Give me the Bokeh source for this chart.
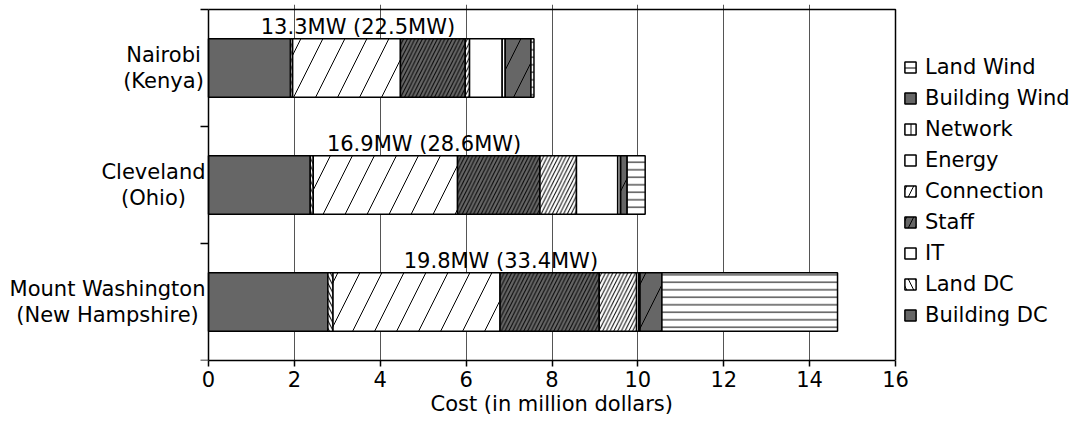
from bokeh.plotting import figure
from bokeh.models import (Range1d, FixedTicker, Legend, LegendItem, ColumnDataSource,
                          LinearAxis, Title)
from bokeh.embed import file_html
from bokeh.resources import INLINE
from bokeh.core.properties import value

# Sites, listed top to bottom
sites = ["Nairobi\n(Kenya)", "Cleveland\n(Ohio)", "Mount Washington\n(New Hampshire)"]

# Cost components in stacking order (million dollars)
components = ["Building DC", "Land DC", "IT", "Staff", "Connection",
              "Energy", "Network", "Building Wind", "Land Wind"]
building_dc = [1.91, 2.37, 2.78]
land_dc = [0.05, 0.07, 0.12]
it_cost = [2.51, 3.36, 3.89]
staff = [1.51, 1.92, 2.31]
connection = [0.10, 0.85, 0.87]
energy = [0.76, 0.96, 0.05]
network = [0.07, 0.07, 0.03]
building_wind = [0.60, 0.15, 0.51]
land_wind = [0.07, 0.42, 4.09]

power_labels = ["13.3MW (22.5MW)", "16.9MW (28.6MW)", "19.8MW (33.4MW)"]
x_ticks = [0, 2, 4, 6, 8, 10, 12, 14, 16]
x_title = "Cost (in million dollars)"

series = [building_dc, land_dc, it_cost, staff, connection,
          energy, network, building_wind, land_wind]

FONT = "DejaVu Sans"
FS = "21px"
GRAY = "#666666"
BAR_H = 0.5

# fill, hatch pattern, hatch spacing in bars, hatch spacing in legend patch
styles = {
    "Building DC":   (GRAY,    None, None, None),
    "Land DC":       ("white", "\\", 7.5, 14),
    "IT":            ("white", "/", 44, None),
    "Staff":         (GRAY,    "/", 7.5, 14),
    "Connection":    ("white", "/", 7.5, 14),
    "Energy":        ("white", None, None, None),
    "Network":       ("white", "|", 7.5, 14),
    "Building Wind": (GRAY,    "/", 44, None),
    "Land Wind":     ("white", "-", 7.5, 14),
}

n = len(sites)
ys = [n - 1 - i + 0.5 for i in range(n)]

# page geometry (px): the plotting box spans 208..895 horizontally, 9..360 vertically
W, H = 1070, 423
BOX_L, BOX_R, BOX_T, BOX_B = 208, 895, 9, 360
TOP_PAD = 4
XMAX = 16
sx = (BOX_R - BOX_L) / XMAX          # px per million dollars
sy = (BOX_B - BOX_T) / n             # px per site band

p = figure(width=W, height=H, output_backend="svg", toolbar_location=None,
           x_range=Range1d(-BOX_L / sx, (W - BOX_L) / sx),
           y_range=Range1d(0, n + (BOX_T - TOP_PAD) / sy),
           y_axis_location=None,
           min_border_left=0, min_border_right=0,
           min_border_top=TOP_PAD, min_border_bottom=H - BOX_B)
p.background_fill_color = "white"
p.border_fill_color = "white"
p.outline_line_color = None

p.ygrid.grid_line_color = None
p.xgrid.grid_line_color = "#555555"
p.xgrid.grid_line_width = 1
p.xgrid.ticker = FixedTicker(ticks=x_ticks[1:-1])
p.xgrid.bounds = (0, n)

xa = p.xaxis[0]
xa.ticker = FixedTicker(ticks=x_ticks)
xa.bounds = (0, XMAX)
xa.major_tick_out = 6
xa.major_tick_in = 0
xa.minor_tick_line_color = None
xa.major_tick_line_width = 1.5
xa.axis_line_width = 1.5
xa.major_label_text_font = FONT
xa.major_label_text_font_size = FS
xa.major_label_text_color = "black"
xa.major_label_standoff = 4

# axis title, placed under the middle of the box
p.add_layout(Title(text=x_title, align="left", offset=430, standoff=0,
                   text_font=FONT, text_font_size=FS, text_font_style="normal",
                   text_color="black"), "below")

# y axis pinned at x=0: only the band-edge ticks
ya = LinearAxis(fixed_location=0, bounds=(0, n),
                ticker=FixedTicker(ticks=[], minor_ticks=list(range(n + 1))))
ya.minor_tick_out = 8
ya.minor_tick_in = 0
ya.minor_tick_line_color = "black"
ya.minor_tick_line_width = 1.5
ya.axis_line_width = 1.5
p.add_layout(ya, "left")

# top and right edges of the box
p.line(x=[0, XMAX, XMAX], y=[n, n, 0], line_color="black", line_width=1.5)

# stacked segments
left = [0.0] * n
for name, vals in zip(components, series):
    fill, hatch, scale, _ = styles[name]
    right = [l + v for l, v in zip(left, vals)]
    src = ColumnDataSource(dict(y=ys, left=left, right=right))
    kw = dict(fill_color=fill, line_color="black", line_width=1.5)
    if hatch:
        kw.update(hatch_pattern=hatch, hatch_scale=scale, hatch_color="black", hatch_weight=1)
    p.hbar(y="y", left="left", right="right", height=BAR_H, source=src, **kw)
    left = right

# capacity labels sitting on top of each bar
label_x = [3.48, 5.02, 6.81]
p.text(x=label_x, y=[y + BAR_H / 2 for y in ys], text=power_labels,
       text_font=value(FONT), text_font_size=FS, text_color="black",
       text_align="center", text_baseline="bottom")

# site names left of the box, lines centred within each block
name_px = [163, 153, 107]
p.text(x=[(px - BOX_L) / sx for px in name_px], y=ys, text=sites,
       text_font=value(FONT), text_font_size=FS, text_color="black",
       text_align="center", text_baseline="middle", text_line_height=1.07)

# legend swatches: renderers with no drawable point, carrying the legend styling
nan = float("nan")
items = []
for name in reversed(components):
    fill, hatch, _, lscale = styles[name]
    kw = dict(fill_color=fill, line_color="black", line_width=1.5)
    if hatch and lscale:
        kw.update(hatch_pattern=hatch, hatch_scale=lscale, hatch_color="black", hatch_weight=1)
    r = p.hbar(y=[nan], left=[nan], right=[nan], height=BAR_H, **kw)
    items.append(LegendItem(label=name, renderers=[r]))

legend = Legend(items=items, location=(BOX_R + 8, 33), margin=0, padding=8,
                glyph_width=14, glyph_height=14, label_standoff=8,
                label_height=25, spacing=6,
                label_text_font=FONT, label_text_font_size=FS,
                label_text_color="black",
                border_line_color=None, background_fill_alpha=0)
p.add_layout(legend)

open("out.html", "w").write(file_html(p, INLINE))
